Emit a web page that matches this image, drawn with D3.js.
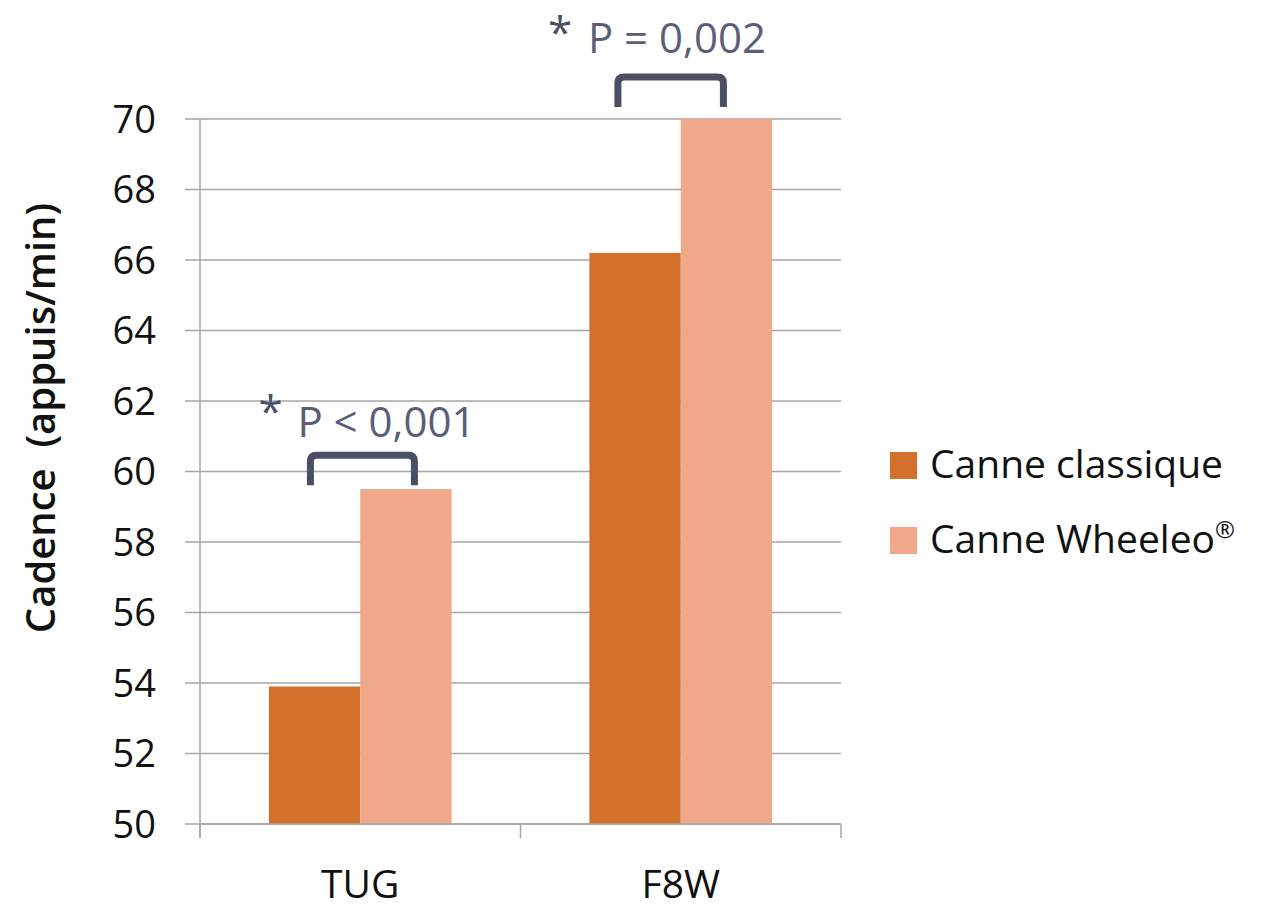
<!DOCTYPE html>
<html><head><meta charset="utf-8">
<script src="https://cdn.jsdelivr.net/npm/d3@7"></script>
<style>body{margin:0;background:#fff}svg{display:block}text{font-family:"Open Sans","Noto Sans",sans-serif}</style>
</head><body>
<svg id="c" width="1266" height="908"></svg>
<script>
const categories = ["TUG", "F8W"];
const seriesNames = ["Canne classique", "Canne Wheeleo"];
const classique = [53.9, 66.2];
const wheeleo = [59.5, 70.0];
const yTicks = [50, 52, 54, 56, 58, 60, 62, 64, 66, 68, 70];
const pLabels = ["P < 0,001", "P = 0,002"];
const colors = ["#d2702b", "#f0a78a"];

(function () {
const svg = d3.select("#c");
const pLeft = 200, pRight = 841, pTop = 119, pBottom = 824;
const x = d3.scaleBand().domain(categories).range([pLeft, pRight]).paddingInner(0.43).paddingOuter(0.215);
const xs = d3.scaleBand().domain(seriesNames).range([0, x.bandwidth()]);
const y = d3.scaleLinear().domain([50, 70]).range([pBottom, pTop]);
const gridColor = "#a6a6a6";

svg.append("g").selectAll("line").data(yTicks).join("line")
  .attr("x1", pLeft - 15).attr("x2", pRight).attr("y1", d => y(d)).attr("y2", d => y(d))
  .attr("stroke", gridColor).attr("stroke-width", 1.5);
svg.append("line").attr("x1", pLeft).attr("x2", pLeft).attr("y1", pTop).attr("y2", pBottom + 14)
  .attr("stroke", gridColor).attr("stroke-width", 1.5);
const bounds = [pLeft, (pLeft + pRight) / 2, pRight];
svg.append("g").selectAll("line").data(bounds).join("line")
  .attr("x1", d => d).attr("x2", d => d).attr("y1", pBottom).attr("y2", pBottom + 14)
  .attr("stroke", gridColor).attr("stroke-width", 1.5);

const data = categories.map((c, i) => ({c, vals: [classique[i], wheeleo[i]]}));
const g = svg.append("g");
data.forEach(d => {
  d.vals.forEach((v, j) => {
    g.append("rect").attr("x", x(d.c) + xs(seriesNames[j])).attr("width", xs.bandwidth())
      .attr("y", y(v)).attr("height", y(50) - y(v)).attr("fill", colors[j]);
  });
});
svg.append("line").attr("x1", pLeft).attr("x2", pRight).attr("y1", pBottom).attr("y2", pBottom)
  .attr("stroke", gridColor).attr("stroke-width", 1.5);

svg.append("g").selectAll("text").data(yTicks).join("text")
  .attr("x", 156).attr("y", d => y(d)).attr("dy", "0.36em").attr("text-anchor", "end")
  .attr("font-size", 38).attr("fill", "#111").text(d => d);

svg.append("g").selectAll("text").data(categories).join("text")
  .attr("x", d => x(d) + x.bandwidth() / 2).attr("y", 898).attr("text-anchor", "middle")
  .attr("font-size", 39).attr("fill", "#111").text(d => d);

svg.append("text").attr("transform", "translate(55,418) rotate(-90)").attr("text-anchor", "middle")
  .style("white-space", "pre")
  .attr("font-size", 40).attr("font-weight", 600).attr("fill", "#111").text("Cadence  (appuis/min)");

seriesNames.forEach((n, i) => {
  const base = 478 + i * 75;
  svg.append("rect").attr("x", 890).attr("y", base - 26).attr("width", 27).attr("height", 27).attr("fill", colors[i]);
  const t = svg.append("text").attr("x", 930).attr("y", base).attr("font-size", 39).attr("fill", "#111").text(n);
  if (i === 1) t.append("tspan").attr("font-size", 24).attr("dy", -15).text("®");
});

const annColor = "#4b4f66";
// layout offsets for brackets/labels (px), per category
const brL = [41.5, 28.5], brR = [145.5, 134], brGap = [4, 12];
const starDx = [-52, -70], starDy = [-28.5, -29.5], pDx = [-13, -30], pDy = [-18.5, -24.5];
data.forEach((d, i) => {
  const maxV = Math.max(...d.vals);
  const x0 = x(d.c) + brL[i];
  const x1 = x(d.c) + brR[i];
  const yb = y(maxV) - brGap[i];
  const yt = yb - 30;
  const r = 6;
  svg.append("path")
    .attr("d", `M${x0},${yb} V${yt + r} Q${x0},${yt} ${x0 + r},${yt} H${x1 - r} Q${x1},${yt} ${x1},${yt + r} V${yb}`)
    .attr("fill", "none").attr("stroke", annColor).attr("stroke-width", 7);
  svg.append("text").attr("x", x0 + starDx[i]).attr("y", yt + starDy[i]).attr("font-size", 44).attr("fill", annColor).text("*");
  svg.append("text").attr("x", x0 + pDx[i]).attr("y", yt + pDy[i]).attr("font-size", 42).attr("fill", "#5a5e78").text(pLabels[i]);
});
})();
</script>
</body></html>
